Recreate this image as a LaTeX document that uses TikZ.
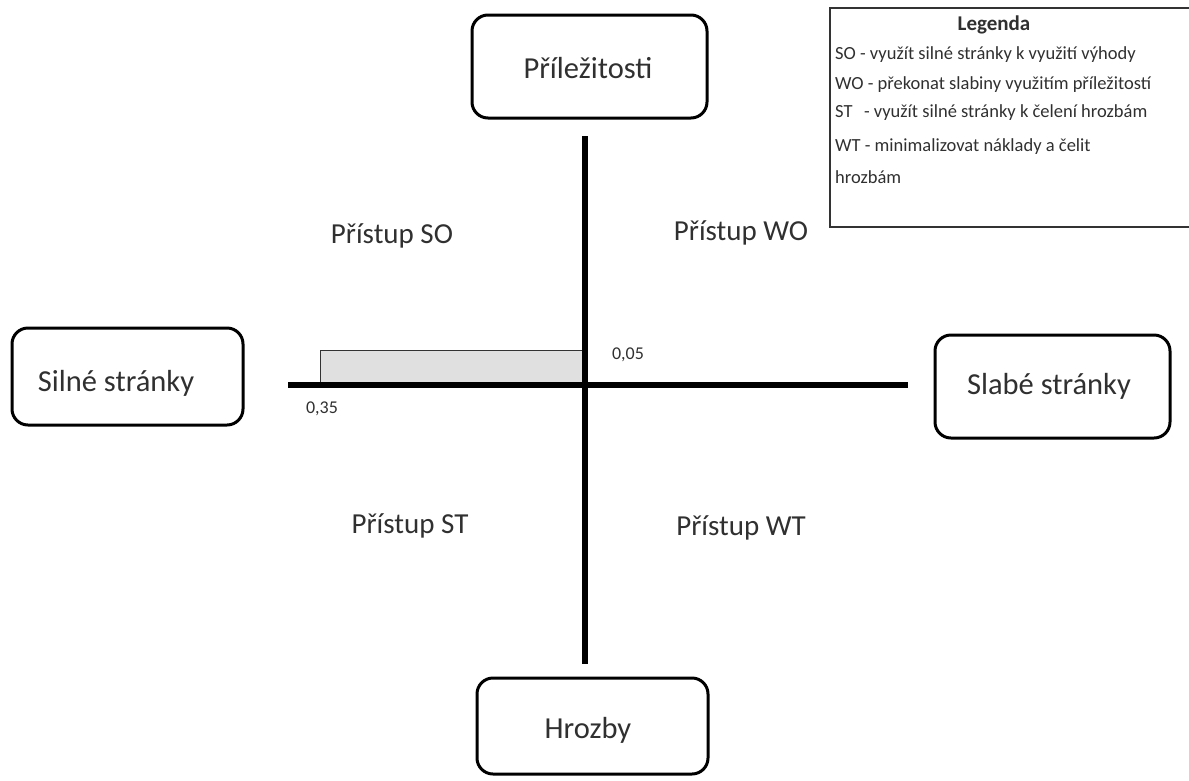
\documentclass[tikz,border=0pt]{standalone}
\usepackage{fontspec}
\setmainfont{Carlito}
\definecolor{txt}{HTML}{303030}
\definecolor{barfill}{HTML}{E0E0E0}
\begin{document}
\begin{tikzpicture}[x=1pt,y=-1pt,
  bigbox/.style={draw=black,line width=3pt,rounded corners=16pt},
  boxtext/.style={text=txt,font=\fontsize{30.5}{36}\selectfont},
  quad/.style={text=txt,font=\fontsize{29}{34}\selectfont},
  small/.style={text=txt,font=\fontsize{18}{21}\selectfont},
  leg/.style={text=txt,font=\fontsize{18.5}{22}\selectfont,anchor=west,inner sep=0pt},
  axis/.style={line width=5.5pt}]
\useasboundingbox (0,0) rectangle (1189,780);
% boxes
\draw[bigbox] (472,15) rectangle (707,118);
\node[boxtext] (opp) at (588,68) {Příležitosti};
\draw[bigbox] (12,328) rectangle (243,425);
\node[boxtext] (str) at (116,383) {Silné stránky};
\draw[bigbox] (935,335) rectangle (1170,438);
\node[boxtext] (weak) at (1049,386) {Slabé stránky};
\draw[bigbox] (477,678) rectangle (708,774);
\node[boxtext] (thr) at (588,730) {Hrozby};
% bar
\draw[fill=barfill,draw=black!80,line width=0.8pt] (320,383) rectangle (584,350);
% axes
\coordinate (vt) at (585,136);
\coordinate (vb) at (585,664);
\coordinate (hl) at (288,385);
\coordinate (hr) at (908,385);
\draw[axis] (vt) -- (vb);
\draw[axis] (hl) -- (hr);
% numbers
\node[small] (n1) at (628,355) {0,05};
\node[small] (n2) at (322,409) {0,35};
% quadrants
\node[quad] (so) at (392,236) {Přístup SO};
\node[quad] (wo) at (741,233) {Přístup WO};
\node[quad] (st) at (410,526) {Přístup ST};
\node[quad] (wt) at (741,528) {Přístup WT};
% legend
\draw[line width=1.2pt,draw=black!80] (1195,8) -- (830,8) -- (830,227) -- (1195,227);
\node[text=txt,font=\bfseries\fontsize{21}{25}\selectfont] (lt) at (994,25) {Legenda};
\node[leg] (l1) at (835,55) {SO - využít silné stránky k využití výhody};
\node[leg] (l2) at (835,85) {WO - překonat slabiny využitím příležitostí};
\node[leg] (l3) at (835,113) {ST \ \,- využít silné stránky k čelení hrozbám};
\node[leg] (l4) at (835,147) {WT - minimalizovat náklady a čelit};
\node[leg] (l5) at (835,177) {hrozbám};
\end{tikzpicture}
\end{document}
